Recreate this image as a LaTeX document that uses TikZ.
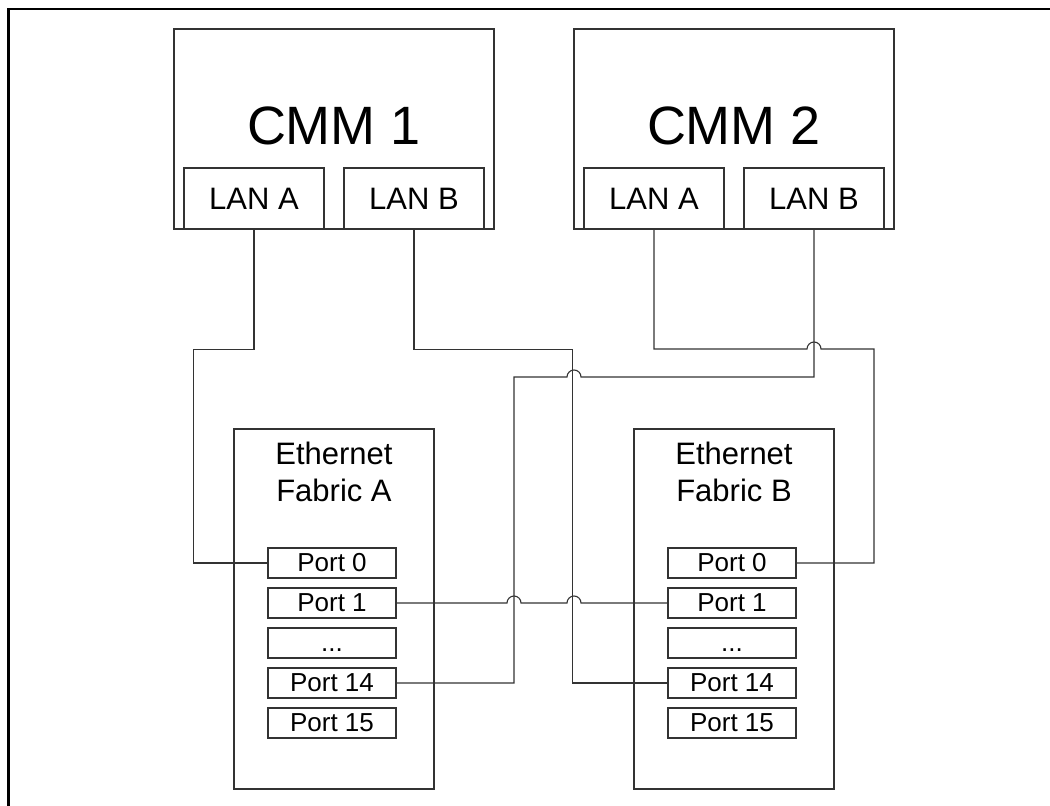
\documentclass[tikz,border=0pt]{standalone}
\usepackage{fontspec}
\setmainfont{Liberation Sans}
\begin{document}
\begin{tikzpicture}[x=1pt,y=-1pt,
  box/.style={draw=black!80, line width=1.1pt, rectangle, inner sep=0pt},
  cmmbox/.style={box, minimum width=320, minimum height=200},
  lanbox/.style={box, minimum width=140, minimum height=61, font=\fontsize{31}{36}\selectfont},
  fabbox/.style={box, minimum width=200, minimum height=360},
  portbox/.style={box, minimum width=128, minimum height=30, font=\fontsize{26}{30}\selectfont},
  wire/.style={draw=black!80, line width=1.1pt},
  bigtxt/.style={font=\fontsize{54}{60}\selectfont, inner sep=0pt},
  fabtxt/.style={font=\fontsize{31}{37}\selectfont, align=center, inner sep=0pt}]
\useasboundingbox (0,0) rectangle (1050,806);
\draw[line width=2.5pt, black] (8.5,900) -- (8.5,9) -- (1100,9);
% CMM boxes
\node[cmmbox] (cmm1) at (334,129) {};
\node[bigtxt] (cmm1t) at (334,126) {CMM 1};
\node[lanbox] (l1a) at (254,198.5) {LAN A};
\node[lanbox] (l1b) at (414,198.5) {LAN B};
\node[cmmbox] (cmm2) at (734,129) {};
\node[bigtxt] (cmm2t) at (734,126) {CMM 2};
\node[lanbox] (l2a) at (654,198.5) {LAN A};
\node[lanbox] (l2b) at (814,198.5) {LAN B};
% Fabrics
\node[fabbox] (fa) at (334,609) {};
\node[fabtxt] (fat) at (334,472) {Ethernet\\Fabric A};
\node[fabbox] (fb) at (734,609) {};
\node[fabtxt] (fbt) at (734,472) {Ethernet\\Fabric B};
% Ports A
\node[portbox] (pA0) at (332,563) {Port 0};
\node[portbox] (pA1) at (332,603) {Port 1};
\node[portbox] (pAd) at (332,643) {\vphantom{P}...};
\node[portbox] (pA14) at (332,683) {Port 14};
\node[portbox] (pA15) at (332,723) {Port 15};
% Ports B
\node[portbox] (pB0) at (732,563) {Port 0};
\node[portbox] (pB1) at (732,603) {Port 1};
\node[portbox] (pBd) at (732,643) {\vphantom{P}...};
\node[portbox] (pB14) at (732,683) {Port 14};
\node[portbox] (pB15) at (732,723) {Port 15};
% Wires
\path[wire] (l1a.south) -- ++(0,120) -| ([xshift=-74pt]pA0.west) -- (pA0.west);
\path[wire] (l1b.south) -- ++(0,120) -| ([xshift=-95pt]pB14.west) -- (pB14.west);
\path[wire] (l2a.south) |- (807,349) arc (180:360:7) -- ++(53,0) |- (pB0.east);
\path[wire] (l2b.south) |- (581,377) arc (0:-180:7) -- ++(-53,0) |- (pA14.east);
\path[wire] (pA1.east) -- (507,603) arc (180:360:7) -- (567,603) arc (180:360:7) -- (pB1.west);
\end{tikzpicture}
\end{document}
